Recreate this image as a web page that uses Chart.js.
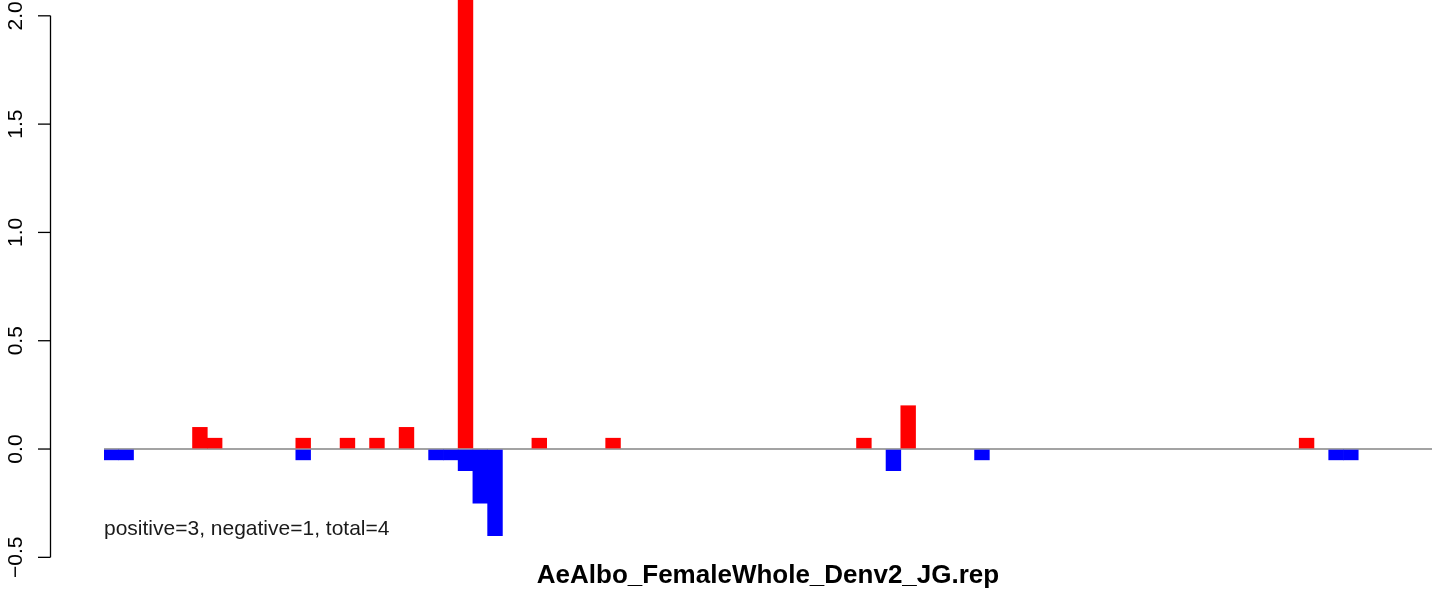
<!DOCTYPE html>
<html>
<head>
<meta charset="utf-8">
<script src="https://cdn.jsdelivr.net/npm/chart.js@4/dist/chart.umd.min.js"></script>
<style>
  html, body { margin: 0; padding: 0; background: #ffffff; }
  #wrap { width: 1444px; height: 593px; position: relative; }
</style>
</head>
<body>
<div id="wrap"><canvas id="c" width="1444" height="593"></canvas></div>
<script>
// ---- data ----
const categories = ["1","2","3","4","5","6","7","8","9","10","11","12","13","14","15","16","17","18","19","20",
  "21","22","23","24","25","26","27","28","29","30","31","32","33","34","35","36","37","38","39","40",
  "41","42","43","44","45","46","47","48","49","50","51","52","53","54","55","56","57","58","59","60",
  "61","62","63","64","65","66","67","68","69","70","71","72","73","74","75","76","77","78","79","80",
  "81","82","83","84","85","86","87","88","89","90"];
const positiveIdx = [6, 7, 13, 16, 18, 20, 24, 29, 34, 51, 54, 81];
const positiveVal = [0.1, 0.05, 0.05, 0.05, 0.05, 0.1, 2.1, 0.05, 0.05, 0.05, 0.2, 0.05];
const negativeIdx = [0, 1, 13, 22, 23, 24, 25, 26, 53, 59, 83, 84];
const negativeVal = [-0.05, -0.05, -0.05, -0.05, -0.05, -0.1, -0.25, -0.4, -0.1, -0.05, -0.05, -0.05];
const yTicks = [-0.5, 0, 0.5, 1, 1.5, 2];
const yTickLabels = ["\u22120.5", "0.0", "0.5", "1.0", "1.5", "2.0"];
const titleText = "AeAlbo_FemaleWhole_Denv2_JG.rep";
const noteText = "positive=3, negative=1, total=4";

// build full-length series tables from the small arrays
const posData = categories.map(() => null);
positiveIdx.forEach((k, j) => { posData[k] = positiveVal[j]; });
const negData = categories.map(() => null);
negativeIdx.forEach((k, j) => { negData[k] = negativeVal[j]; });

const FONT = '"Liberation Sans", Arial, Helvetica, sans-serif';

const decor = {
  id: 'decor',
  afterDraw(chart) {
    const ctx = chart.ctx;
    const y = chart.scales.y;
    const x = chart.scales.x;
    const ca = chart.chartArea;
    ctx.save();
    // y axis line
    const axX = 50.5;
    const yTop = y.getPixelForValue(yTicks[yTicks.length - 1]);
    const yBot = y.getPixelForValue(yTicks[0]);
    ctx.strokeStyle = '#000000';
    ctx.lineWidth = 1.3;
    ctx.beginPath();
    ctx.moveTo(axX, yTop);
    ctx.lineTo(axX, yBot);
    ctx.stroke();
    // ticks and labels
    ctx.fillStyle = '#000000';
    ctx.font = '21px ' + FONT;
    ctx.textAlign = 'center';
    ctx.textBaseline = 'alphabetic';
    yTicks.forEach((v, i) => {
      const py = y.getPixelForValue(v);
      ctx.beginPath();
      ctx.moveTo(38, py);
      ctx.lineTo(axX, py);
      ctx.stroke();
      ctx.save();
      ctx.translate(22, py);
      ctx.rotate(-Math.PI / 2);
      ctx.fillText(yTickLabels[i], 0, 0);
      ctx.restore();
    });
    // note text
    ctx.textAlign = 'left';
    ctx.font = '21px ' + FONT;
    ctx.fillStyle = '#1a1a1a';
    ctx.fillText(noteText, ca.left, 535);
    // title
    ctx.textAlign = 'center';
    ctx.fillStyle = '#000000';
    ctx.font = 'bold 26px ' + FONT;
    ctx.fillText(titleText, (ca.left + ca.right) / 2, 583);
    ctx.restore();
  }
};

new Chart(document.getElementById('c'), {
  type: 'bar',
  data: {
    labels: categories,
    datasets: [
      { label: 'positive', data: posData, backgroundColor: '#ff0000', borderWidth: 0,
        categoryPercentage: 1.0, barPercentage: 1.0 },
      { label: 'negative', data: negData, backgroundColor: '#0000ff', borderWidth: 0,
        categoryPercentage: 1.0, barPercentage: 1.0 }
    ]
  },
  options: {
    responsive: false,
    animation: false,
    devicePixelRatio: 1,
    layout: { padding: { left: 104, right: 12, top: 0, bottom: 14 } },
    plugins: { legend: { display: false }, tooltip: { enabled: false }, title: { display: false } },
    scales: {
      x: { stacked: true, display: false, offset: true, grid: { display: false } },
      y: {
        stacked: true,
        display: true,
        min: -0.6,
        max: 2.073,
        position: 'left',
        ticks: { display: false, stepSize: 0.5 },
        border: { display: false },
        grid: {
          drawOnChartArea: true,
          drawTicks: false,
          lineWidth: 2,
          color: (c) => (c.tick && c.tick.value === 0 ? '#a3a3a3' : 'rgba(0,0,0,0)')
        }
      }
    }
  },
  plugins: [decor]
});
</script>
</body>
</html>
